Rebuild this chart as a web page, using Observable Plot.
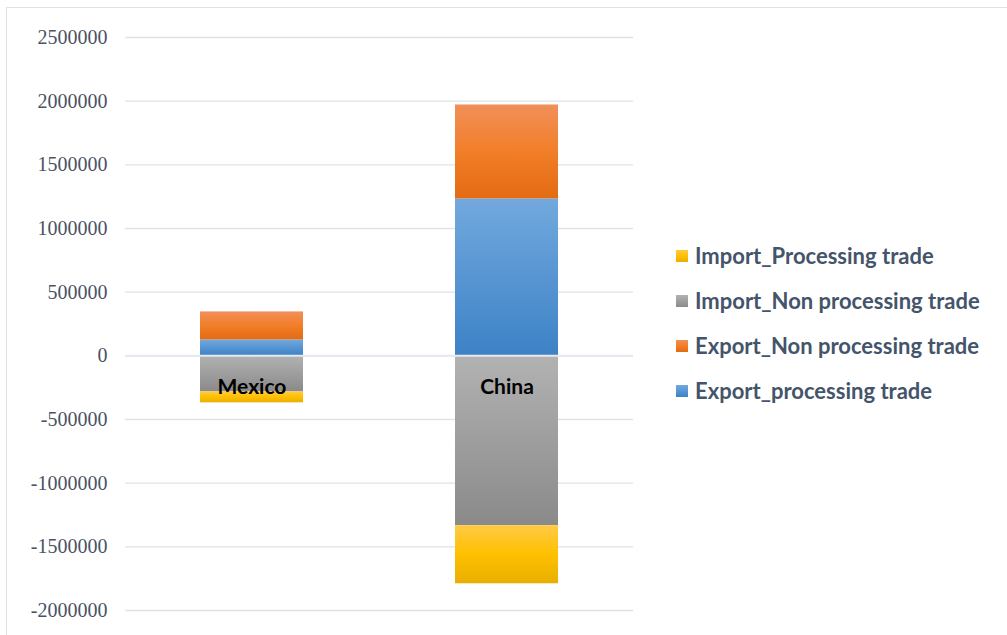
<!DOCTYPE html>
<html>
<head>
<meta charset="utf-8">
<script src="https://cdn.jsdelivr.net/npm/d3@7"></script>
<script src="https://cdn.jsdelivr.net/npm/@observablehq/plot@0.6"></script>
<style>
  html, body { margin: 0; padding: 0; background: #fff; }
  #wrap { position: relative; width: 1007px; height: 635px; overflow: hidden; }
  #frame { position: absolute; left: 6px; top: 7px; width: 1100px; height: 700px;
           border-top: 1.5px solid #dfe2e8; border-left: 1.5px solid #dfe2e8; pointer-events: none; }
  #legend { position: absolute; left: 676px; top: 233px; font-family: Lato, "Open Sans", sans-serif;
            font-weight: bold; font-size: 22px; color: #44546a; }
  .item { display: flex; align-items: center; height: 45px; }
  .sw { width: 12px; height: 12px; margin-right: 7px; }
  .ytick text { font-family: "Liberation Serif", "DejaVu Serif", serif !important; font-size: 20px !important; }
</style>
</head>
<body>
<div id="wrap"><div id="chart"></div><div id="legend"></div><div id="frame"></div></div>
<script>
const countries = ["Mexico", "China"];
const seriesNames = ["Export_processing trade", "Export_Non processing trade", "Import_Non processing trade", "Import_Processing trade"];
const exportProcessing = [125000, 1232000];
const exportNonProcessing = [220000, 738000];
const importNonProcessing = [-283000, -1334000];
const importProcessing = [-86000, -456000];
const yTicks = [-2000000, -1500000, -1000000, -500000, 0, 500000, 1000000, 1500000, 2000000, 2500000];
const legendOrder = ["Import_Processing trade", "Import_Non processing trade", "Export_Non processing trade", "Export_processing trade"];

const gradIds = ["gBlue", "gOrange", "gGrey", "gYellow"];
const gradStops = [
  [["0%", "#72a9de"], ["100%", "#3d82c6"]],
  [["0%", "#f18f59"], ["50%", "#f27e29"], ["100%", "#e36b12"]],
  [["0%", "#b2b2b2"], ["100%", "#8a8a8a"]],
  [["0%", "#ffca45"], ["50%", "#ffc000"], ["100%", "#e8af00"]]
];

const allSeries = [exportProcessing, exportNonProcessing, importNonProcessing, importProcessing];
const rows = [];
seriesNames.forEach((s, i) => countries.forEach((c, j) => rows.push({country: c, series: s, value: allSeries[i][j]})));

const chart = Plot.plot({
  width: 1007,
  height: 635,
  marginTop: 37,
  marginBottom: 25,
  marginLeft: 125,
  marginRight: 374,
  style: {background: "#fff"},
  x: {domain: countries, paddingInner: 0.596, paddingOuter: 0.292, axis: null},
  y: {domain: [-2000000, 2500000], axis: null},
  color: {domain: seriesNames, range: gradIds.map(g => `url(#${g})`)},
  marks: [
    Plot.gridY(yTicks, {stroke: "#dfe2e8", strokeOpacity: 1, strokeWidth: 1.3}),
    Plot.axisY(yTicks, {tickSize: 0, tickPadding: 18, label: null, tickFormat: d => String(d),
      fontFamily: "Liberation Serif", fontSize: 20, fill: "#4a5263", className: "ytick"}),
    Plot.barY(rows, {x: "country", y: "value", fill: "series", order: seriesNames}),
    Plot.ruleY([0], {stroke: "#e6e9ef", strokeWidth: 2}),
    Plot.text(countries, {x: d => d, y: () => 0, dy: 31, text: d => d, fontFamily: "Lato, 'Open Sans', sans-serif", fontWeight: "bold", fontSize: 21, fill: "#000"})
  ]
});

const defs = d3.select(chart).insert("defs", ":first-child");
gradIds.forEach((id, i) => {
  const g = defs.append("linearGradient").attr("id", id).attr("x1", 0).attr("y1", 0).attr("x2", 0).attr("y2", 1);
  gradStops[i].forEach(([o, c]) => g.append("stop").attr("offset", o).attr("stop-color", c));
});
document.getElementById("chart").appendChild(chart);

const legend = document.getElementById("legend");
legendOrder.forEach(name => {
  const i = seriesNames.indexOf(name);
  const item = document.createElement("div");
  item.className = "item";
  const sw = document.createElement("div");
  sw.className = "sw";
  sw.style.background = `linear-gradient(${gradStops[i].map(([o, c]) => c + " " + o).join(", ")})`;
  const t = document.createElement("span");
  t.textContent = name;
  item.appendChild(sw);
  item.appendChild(t);
  legend.appendChild(item);
});
</script>
</body>
</html>
